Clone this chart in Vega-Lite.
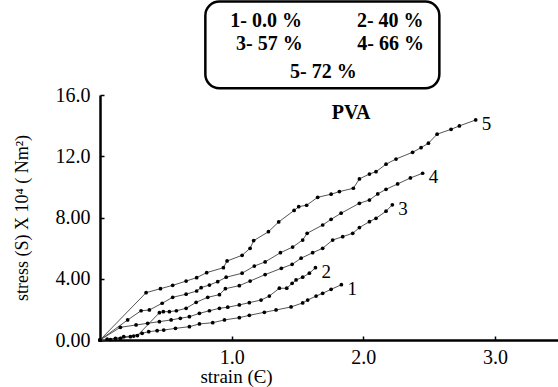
{
  "$schema": "https://vega.github.io/schema/vega-lite/v6.json",
  "width": 458,
  "height": 245,
  "autosize": "none",
  "padding": {"left": 100, "top": 95, "right": 0, "bottom": 47},
  "background": "white",
  "config": {
    "view": {"stroke": null},
    "font": "Liberation Serif",
    "axis": {"grid": false, "domainColor": "black", "domainWidth": 2.5, "tickColor": "black", "tickWidth": 1.5, "tickSize": -4, "labelFont": "Liberation Serif", "labelFontSize": 20, "labelColor": "black", "titleFont": "Liberation Serif", "titleFontSize": 19, "titleFontWeight": "normal", "titleColor": "black"}
  },
  "datasets": {
    "curves": [
      {"curve": "1", "strain": 0, "stress": 0},
      {"curve": "1", "strain": 0.079, "stress": 0.03},
      {"curve": "1", "strain": 0.155, "stress": 0.11},
      {"curve": "1", "strain": 0.231, "stress": 0.22},
      {"curve": "1", "strain": 0.32, "stress": 0.44},
      {"curve": "1", "strain": 0.37, "stress": 0.54},
      {"curve": "1", "strain": 0.434, "stress": 0.61},
      {"curve": "1", "strain": 0.484, "stress": 0.65},
      {"curve": "1", "strain": 0.573, "stress": 0.76},
      {"curve": "1", "strain": 0.679, "stress": 0.87},
      {"curve": "1", "strain": 0.755, "stress": 1.05},
      {"curve": "1", "strain": 0.856, "stress": 1.13},
      {"curve": "1", "strain": 0.945, "stress": 1.31},
      {"curve": "1", "strain": 1.058, "stress": 1.46},
      {"curve": "1", "strain": 1.134, "stress": 1.61},
      {"curve": "1", "strain": 1.248, "stress": 1.81},
      {"curve": "1", "strain": 1.337, "stress": 1.96},
      {"curve": "1", "strain": 1.451, "stress": 2.16},
      {"curve": "1", "strain": 1.539, "stress": 2.42},
      {"curve": "1", "strain": 1.577, "stress": 2.61},
      {"curve": "1", "strain": 1.641, "stress": 2.87},
      {"curve": "1", "strain": 1.691, "stress": 3.05},
      {"curve": "1", "strain": 1.755, "stress": 3.31},
      {"curve": "1", "strain": 1.833, "stress": 3.61},
      {"curve": "2", "strain": 0, "stress": 0},
      {"curve": "2", "strain": 0.155, "stress": 0.83},
      {"curve": "2", "strain": 0.274, "stress": 0.98},
      {"curve": "2", "strain": 0.362, "stress": 1.09},
      {"curve": "2", "strain": 0.451, "stress": 1.2},
      {"curve": "2", "strain": 0.54, "stress": 1.31},
      {"curve": "2", "strain": 0.61, "stress": 1.42},
      {"curve": "2", "strain": 0.679, "stress": 1.52},
      {"curve": "2", "strain": 0.755, "stress": 1.74},
      {"curve": "2", "strain": 0.831, "stress": 1.91},
      {"curve": "2", "strain": 0.907, "stress": 2.07},
      {"curve": "2", "strain": 0.97, "stress": 2.14},
      {"curve": "2", "strain": 1.058, "stress": 2.29},
      {"curve": "2", "strain": 1.134, "stress": 2.44},
      {"curve": "2", "strain": 1.223, "stress": 2.61},
      {"curve": "2", "strain": 1.286, "stress": 2.87},
      {"curve": "2", "strain": 1.362, "stress": 3.38},
      {"curve": "2", "strain": 1.418, "stress": 3.38},
      {"curve": "2", "strain": 1.459, "stress": 3.7},
      {"curve": "2", "strain": 1.489, "stress": 3.92},
      {"curve": "2", "strain": 1.539, "stress": 4.1},
      {"curve": "2", "strain": 1.59, "stress": 4.36},
      {"curve": "2", "strain": 1.636, "stress": 4.72},
      {"curve": "3", "strain": 0, "stress": 0},
      {"curve": "3", "strain": 0.054, "stress": 0.05},
      {"curve": "3", "strain": 0.117, "stress": 0.11},
      {"curve": "3", "strain": 0.18, "stress": 0.22},
      {"curve": "3", "strain": 0.256, "stress": 0.26},
      {"curve": "3", "strain": 0.284, "stress": 0.29},
      {"curve": "3", "strain": 0.451, "stress": 1.78},
      {"curve": "3", "strain": 0.481, "stress": 1.85},
      {"curve": "3", "strain": 0.527, "stress": 1.85},
      {"curve": "3", "strain": 0.58, "stress": 1.91},
      {"curve": "3", "strain": 0.654, "stress": 2.07},
      {"curve": "3", "strain": 0.73, "stress": 2.46},
      {"curve": "3", "strain": 0.818, "stress": 2.79},
      {"curve": "3", "strain": 0.907, "stress": 2.96},
      {"curve": "3", "strain": 0.952, "stress": 3.35},
      {"curve": "3", "strain": 1.058, "stress": 3.55},
      {"curve": "3", "strain": 1.14, "stress": 3.85},
      {"curve": "3", "strain": 1.254, "stress": 4.27},
      {"curve": "3", "strain": 1.377, "stress": 4.68},
      {"curve": "3", "strain": 1.459, "stress": 4.94},
      {"curve": "3", "strain": 1.527, "stress": 5.34},
      {"curve": "3", "strain": 1.615, "stress": 5.7},
      {"curve": "3", "strain": 1.691, "stress": 5.99},
      {"curve": "3", "strain": 1.767, "stress": 6.53},
      {"curve": "3", "strain": 1.843, "stress": 6.75},
      {"curve": "3", "strain": 1.919, "stress": 6.97},
      {"curve": "3", "strain": 1.97, "stress": 7.34},
      {"curve": "3", "strain": 2.046, "stress": 7.73},
      {"curve": "3", "strain": 2.096, "stress": 7.95},
      {"curve": "3", "strain": 2.172, "stress": 8.41},
      {"curve": "3", "strain": 2.22, "stress": 8.83},
      {"curve": "4", "strain": 0, "stress": 0},
      {"curve": "4", "strain": 0.21, "stress": 1.31},
      {"curve": "4", "strain": 0.312, "stress": 1.91},
      {"curve": "4", "strain": 0.375, "stress": 1.96},
      {"curve": "4", "strain": 0.472, "stress": 2.4},
      {"curve": "4", "strain": 0.552, "stress": 2.79},
      {"curve": "4", "strain": 0.654, "stress": 2.99},
      {"curve": "4", "strain": 0.734, "stress": 3.2},
      {"curve": "4", "strain": 0.768, "stress": 3.42},
      {"curve": "4", "strain": 0.831, "stress": 3.59},
      {"curve": "4", "strain": 0.894, "stress": 3.81},
      {"curve": "4", "strain": 0.958, "stress": 4.1},
      {"curve": "4", "strain": 1.079, "stress": 4.36},
      {"curve": "4", "strain": 1.172, "stress": 4.83},
      {"curve": "4", "strain": 1.254, "stress": 5.1},
      {"curve": "4", "strain": 1.37, "stress": 5.7},
      {"curve": "4", "strain": 1.463, "stress": 6.07},
      {"curve": "4", "strain": 1.539, "stress": 6.53},
      {"curve": "4", "strain": 1.573, "stress": 6.97},
      {"curve": "4", "strain": 1.691, "stress": 7.51},
      {"curve": "4", "strain": 1.755, "stress": 7.88},
      {"curve": "4", "strain": 1.831, "stress": 8.28},
      {"curve": "4", "strain": 1.97, "stress": 8.93},
      {"curve": "4", "strain": 2.046, "stress": 9.14},
      {"curve": "4", "strain": 2.109, "stress": 9.54},
      {"curve": "4", "strain": 2.172, "stress": 9.84},
      {"curve": "4", "strain": 2.26, "stress": 10.19},
      {"curve": "4", "strain": 2.357, "stress": 10.58},
      {"curve": "4", "strain": 2.45, "stress": 10.89},
      {"curve": "5", "strain": 0, "stress": 0},
      {"curve": "5", "strain": 0.35, "stress": 3.09},
      {"curve": "5", "strain": 0.459, "stress": 3.35},
      {"curve": "5", "strain": 0.552, "stress": 3.57},
      {"curve": "5", "strain": 0.654, "stress": 3.85},
      {"curve": "5", "strain": 0.734, "stress": 4.07},
      {"curve": "5", "strain": 0.81, "stress": 4.4},
      {"curve": "5", "strain": 0.937, "stress": 4.72},
      {"curve": "5", "strain": 0.965, "stress": 5.16},
      {"curve": "5", "strain": 1.079, "stress": 5.53},
      {"curve": "5", "strain": 1.14, "stress": 5.99},
      {"curve": "5", "strain": 1.167, "stress": 6.49},
      {"curve": "5", "strain": 1.279, "stress": 7.07},
      {"curve": "5", "strain": 1.357, "stress": 7.71},
      {"curve": "5", "strain": 1.474, "stress": 8.46},
      {"curve": "5", "strain": 1.509, "stress": 8.71},
      {"curve": "5", "strain": 1.569, "stress": 8.8},
      {"curve": "5", "strain": 1.653, "stress": 9.32},
      {"curve": "5", "strain": 1.755, "stress": 9.52},
      {"curve": "5", "strain": 1.818, "stress": 9.69},
      {"curve": "5", "strain": 1.924, "stress": 9.91},
      {"curve": "5", "strain": 1.97, "stress": 10.52},
      {"curve": "5", "strain": 2.046, "stress": 10.84},
      {"curve": "5", "strain": 2.096, "stress": 10.99},
      {"curve": "5", "strain": 2.172, "stress": 11.48},
      {"curve": "5", "strain": 2.248, "stress": 11.82},
      {"curve": "5", "strain": 2.374, "stress": 12.26},
      {"curve": "5", "strain": 2.438, "stress": 12.56},
      {"curve": "5", "strain": 2.494, "stress": 12.85},
      {"curve": "5", "strain": 2.56, "stress": 13.44},
      {"curve": "5", "strain": 2.666, "stress": 13.76},
      {"curve": "5", "strain": 2.729, "stress": 13.98},
      {"curve": "5", "strain": 2.853, "stress": 14.37}
    ],
    "legendbox": [{"x1": 0.8, "x2": 2.577, "y1": 16.44, "y2": 22.1}],
    "legend": [
      {"label": "1- 0.0 %", "lx": 1.261, "ly": 20.84},
      {"label": "2- 40 %", "lx": 2.204, "ly": 20.84},
      {"label": "3- 57 %", "lx": 1.286, "ly": 19.34},
      {"label": "4- 66 %", "lx": 2.207, "ly": 19.34},
      {"label": "5- 72 %", "lx": 1.696, "ly": 17.52}
    ],
    "notes": [{"label": "PVA", "lx": 1.907, "ly": 14.83}]
  },
  "layer": [
    {
      "data": {"name": "legendbox"},
      "mark": {"type": "rect", "fill": "white", "stroke": "black", "strokeWidth": 2.5, "cornerRadius": 14},
      "encoding": {
        "x": {"field": "x1", "type": "quantitative", "scale": {"domain": [0, 3.478], "nice": false, "zero": false}},
        "x2": {"field": "x2"},
        "y": {"field": "y1", "type": "quantitative", "scale": {"domain": [0, 16], "nice": false}},
        "y2": {"field": "y2"}
      }
    },
    {
      "data": {"name": "legend"},
      "mark": {"type": "text", "font": "Liberation Serif", "fontWeight": "bold", "fontSize": 20, "align": "center", "baseline": "middle", "color": "black"},
      "encoding": {
        "x": {"field": "lx", "type": "quantitative"},
        "y": {"field": "ly", "type": "quantitative"},
        "text": {"field": "label"}
      }
    },
    {
      "data": {"name": "curves"},
      "mark": {"type": "line", "color": "#555555", "strokeWidth": 1},
      "encoding": {
        "x": {"field": "strain", "type": "quantitative", "scale": {"domain": [0, 3.478], "nice": false, "zero": false},
          "axis": {"title": "strain (Є)", "values": [1, 2, 3], "format": ".1f", "labelPadding": 11, "labelBaseline": "top", "titleX": 136, "titleY": 42, "titleBaseline": "alphabetic", "titleAnchor": null, "titleAlign": "center"}},
        "y": {"field": "stress", "type": "quantitative", "scale": {"domain": [0, 16], "nice": false},
          "axis": {"title": "stress (S) X 10⁴ ( Nm²)", "titleFontSize": 18, "values": [0, 4, 8, 12, 16], "labelExpr": "datum.value < 10 ? format(datum.value, '.2f') : format(datum.value, '.1f')", "labelPadding": 14, "titlePadding": 24}},
        "detail": {"field": "curve"},
        "order": {"field": "strain", "type": "quantitative"}
      }
    },
    {
      "data": {"name": "curves"},
      "mark": {"type": "point", "filled": true, "color": "black", "size": 14, "opacity": 1},
      "encoding": {
        "x": {"field": "strain", "type": "quantitative"},
        "y": {"field": "stress", "type": "quantitative"}
      }
    },
    {
      "data": {"name": "curves"},
      "transform": [
        {"joinaggregate": [{"op": "max", "field": "strain", "as": "xmax"}], "groupby": ["curve"]},
        {"filter": "datum.strain === datum.xmax"}
      ],
      "mark": {"type": "text", "font": "Liberation Serif", "fontSize": 19, "align": "left", "baseline": "middle", "dx": 6, "dy": 4, "color": "black"},
      "encoding": {
        "x": {"field": "strain", "type": "quantitative"},
        "y": {"field": "stress", "type": "quantitative"},
        "text": {"field": "curve"}
      }
    },
    {
      "data": {"name": "notes"},
      "mark": {"type": "text", "font": "Liberation Serif", "fontWeight": "bold", "fontSize": 20, "align": "center", "baseline": "middle", "color": "black"},
      "encoding": {
        "x": {"field": "lx", "type": "quantitative"},
        "y": {"field": "ly", "type": "quantitative"},
        "text": {"field": "label"}
      }
    }
  ]
}
